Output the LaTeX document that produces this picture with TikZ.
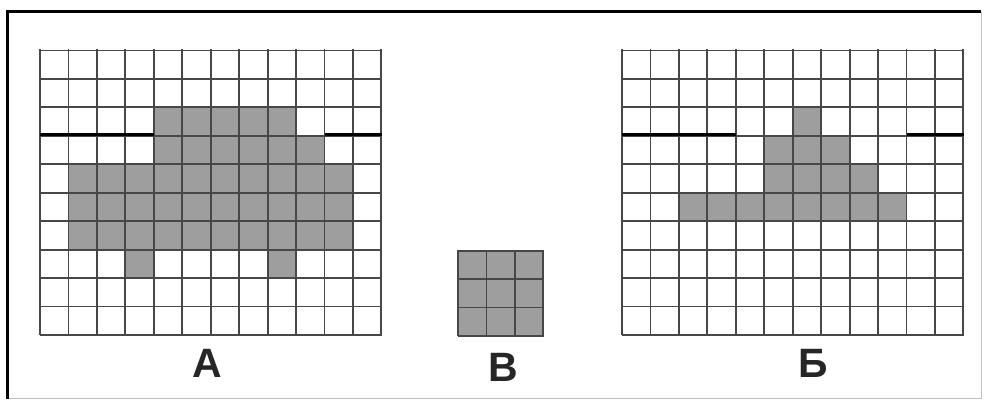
\documentclass[tikz,border=0pt]{standalone}
\usepackage{fontspec}
\setmainfont{Liberation Sans}

\definecolor{cellgray}{gray}{0.62}
\definecolor{linegray}{gray}{0.28}

\tikzset{
  filled/.style={fill=cellgray},
  gridline/.style={draw=linegray, line width=1.9pt},
  cutline/.style={draw=black, line width=2.6pt},
  letter/.style={font=\fontsize{41}{41}\selectfont\bfseries, text=black!85}
}

\begin{document}
\begin{tikzpicture}[x=1pt,y=1pt]
\useasboundingbox (0,0) rectangle (984,401);
% frame
\draw[gray!50, line width=1pt] (981,389) -- (981,2) -- (7,2);
\draw[line width=3pt] (7,2) -- (7,389) -- (981,389);

% figure A
\begin{scope}[shift={(40,66)}, x=28.5pt, y=28.6pt]
\foreach \y/\a/\b in {7/4/8, 6/4/9, 5/1/10, 4/1/10, 3/1/10, 2/3/3, 2/8/8}
  \fill[filled] (\a,\y) rectangle (\b+1,\y+1);
\draw[gridline] (0,0) grid (12,10);
\draw[cutline] (0,7) -- (4,7);
\draw[cutline] (10,7) -- (12,7);
\end{scope}

% figure B (square)
\begin{scope}[shift={(458,65)}, x=28.5pt, y=28.5pt]
\fill[filled] (0,0) rectangle (3,3);
\draw[gridline] (0,0) grid (3,3);
\end{scope}

% figure Б
\begin{scope}[shift={(622,66)}, x=28.5pt, y=28.6pt]
\foreach \y/\a/\b in {7/6/6, 6/5/7, 5/5/8, 4/2/9}
  \fill[filled] (\a,\y) rectangle (\b+1,\y+1);
\draw[gridline] (0,0) grid (12,10);
\draw[cutline] (0,7) -- (4,7);
\draw[cutline] (10,7) -- (12,7);
\end{scope}

\node[letter] (labelA) at (207,38) {А};
\node[letter] (labelV) at (503,34) {В};
\node[letter] (labelB) at (813,38) {Б};
\end{tikzpicture}
\end{document}
